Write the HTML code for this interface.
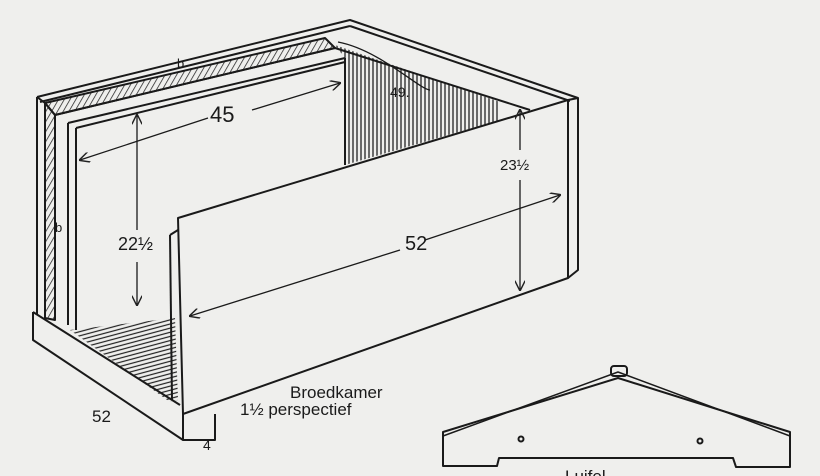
<!DOCTYPE html>
<html><head><style>
html,body{margin:0;padding:0;background:#efefed;}
svg{display:block}
text{font-family:"Liberation Sans",sans-serif;fill:#1a1a1a}
</style></head><body>
<svg width="820" height="476" viewBox="0 0 820 476" xmlns="http://www.w3.org/2000/svg">
<defs>
<pattern id="h" width="5" height="5" patternUnits="userSpaceOnUse" patternTransform="rotate(30)"><line x1="0" y1="0" x2="0" y2="5" stroke="#222" stroke-width="1.5"/></pattern>
<pattern id="v" width="4" height="4" patternUnits="userSpaceOnUse"><line x1="1" y1="0" x2="1" y2="4" stroke="#222" stroke-width="1.3"/></pattern>
<pattern id="d" width="4" height="4" patternUnits="userSpaceOnUse" patternTransform="rotate(-15)"><line x1="0" y1="1" x2="4" y2="1" stroke="#222" stroke-width="1.2"/></pattern>
<marker id="a" viewBox="0 0 10 10" refX="9" refY="5" markerWidth="8" markerHeight="8" orient="auto-start-reverse"><path d="M0,0 L10,5 L0,10" fill="none" stroke="#222" stroke-width="1.4"/></marker>
</defs>
<g stroke="#1a1a1a" stroke-width="2" fill="none" stroke-linejoin="round">
<polygon points="45,103 325,38 335,48 55,115" fill="url(#h)"/>
<polygon points="45,103 55,115 55,320 45,318" fill="url(#h)"/>
<polyline points="37,97 350,20 578,98"/>
<polyline points="37,97 45,103 55,115"/>
<line x1="40" y1="102" x2="350" y2="26"/>
<line x1="350" y1="26" x2="570" y2="101"/>
<line x1="55" y1="115" x2="335" y2="48"/>
<line x1="68" y1="123" x2="345" y2="58"/>
<line x1="76" y1="128" x2="345" y2="62"/>
<polygon points="345,58 345,165 500,120 500,102 335,45" fill="url(#v)" stroke="none"/>
<line x1="345" y1="58" x2="345" y2="165"/>
<line x1="335" y1="48" x2="530" y2="110"/>
<line x1="37" y1="97" x2="37" y2="315"/>
<line x1="45" y1="103" x2="45" y2="318"/>
<line x1="68" y1="123" x2="68" y2="325"/>
<line x1="76" y1="128" x2="76" y2="330"/>
<polygon points="70,330 175,318 178,400 170,402" fill="url(#d)" stroke="none"/>
<polyline points="33,312 33,340 183,440 215,440 215,414"/>
<line x1="33" y1="312" x2="180" y2="405"/>
<line x1="183" y1="440" x2="183" y2="414"/>
<polygon points="178,218 568,100 568,278 183,414" fill="#efefed"/>
<line x1="170" y1="235" x2="172" y2="400"/>
<line x1="170" y1="235" x2="178" y2="230"/>
<polyline points="568,100 578,98 578,270 568,278"/>
<g stroke-width="1.3">
<line x1="80" y1="160" x2="208" y2="118" marker-start="url(#a)"/>
<line x1="252" y1="110" x2="340" y2="83" marker-end="url(#a)"/>
<line x1="137" y1="115" x2="137" y2="230" marker-start="url(#a)"/>
<line x1="137" y1="262" x2="137" y2="305" marker-end="url(#a)"/>
<line x1="520" y1="110" x2="520" y2="150" marker-start="url(#a)"/>
<line x1="520" y1="180" x2="520" y2="290" marker-end="url(#a)"/>
<line x1="190" y1="316" x2="400" y2="250" marker-start="url(#a)"/>
<line x1="425" y1="240" x2="560" y2="195" marker-end="url(#a)"/>
<path d="M338,42 C380,50 420,90 430,90" />
</g>
<path d="M443,443 L443,432 L618,378 L790,432 L790,443"/>
<path d="M443,436 L618,372 L790,436" stroke-width="1.5"/>
<rect x="611" y="366" width="16" height="10" rx="3"/>
<path d="M443,443 L443,466 L497,466 L499,458 L733,458 L736,467 L790,467 L790,443"/>
<circle cx="521" cy="439" r="2.5"/>
<circle cx="700" cy="441" r="2.5"/>
</g>
<text x="210" y="122" font-size="22">45</text>
<text x="390" y="97" font-size="14">49.</text>
<text x="118" y="250" font-size="18">22½</text>
<text x="500" y="170" font-size="15">23½</text>
<text x="405" y="250" font-size="20">52</text>
<text x="177" y="68" font-size="13">b</text>
<text x="55" y="232" font-size="13">b</text>
<text x="290" y="398" font-size="17">Broedkamer</text>
<text x="240" y="415" font-size="17">1½ perspectief</text>
<text x="92" y="422" font-size="17">52</text>
<text x="203" y="450" font-size="14">4</text>
<text x="565" y="482" font-size="17">Luifel</text>
</svg>
</body></html>
